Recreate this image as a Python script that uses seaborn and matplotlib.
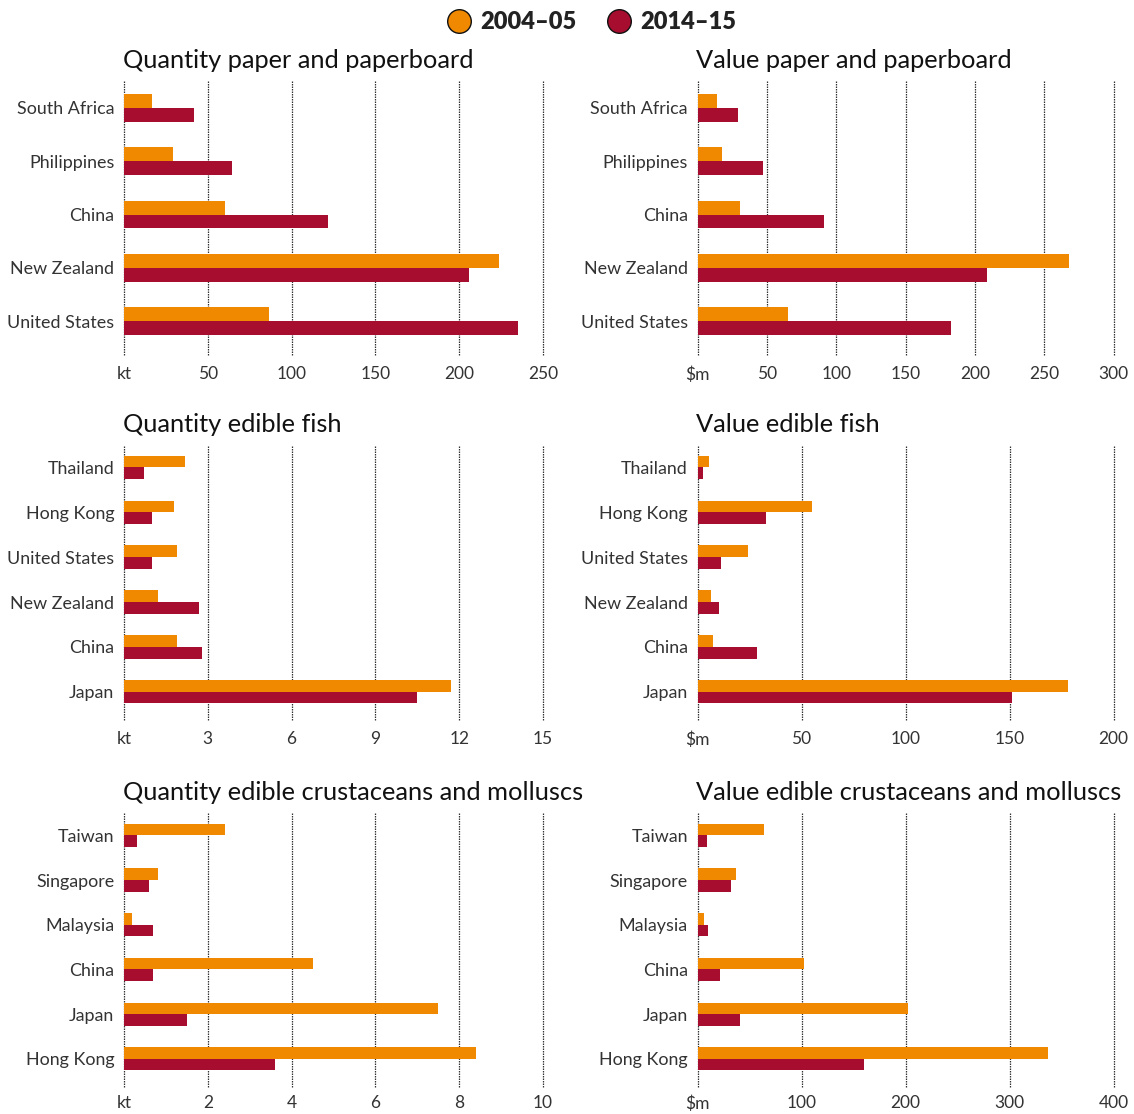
import matplotlib
matplotlib.use("Agg")
import matplotlib.pyplot as plt
from matplotlib.lines import Line2D
import seaborn as sns
import pandas as pd

# ---- data -------------------------------------------------------------
periods = ["2004–05", "2014–15"]

paper_countries = ["South Africa", "Philippines", "China", "New Zealand", "United States"]
paper_qty_0405 = [16.5, 29, 60, 224, 86.5]
paper_qty_1415 = [42, 64.5, 121.5, 206, 235]
paper_val_0405 = [14, 17.5, 30.5, 268, 65]
paper_val_1415 = [29.5, 47, 91, 209, 183]

fish_countries = ["Thailand", "Hong Kong", "United States", "New Zealand", "China", "Japan"]
fish_qty_0405 = [2.2, 1.8, 1.9, 1.2, 1.9, 11.7]
fish_qty_1415 = [0.7, 1.0, 1.0, 2.7, 2.8, 10.5]
fish_val_0405 = [5.3, 55, 24.5, 6.4, 7.4, 178]
fish_val_1415 = [2.6, 33, 11.2, 10.2, 28.4, 151]

crust_countries = ["Taiwan", "Singapore", "Malaysia", "China", "Japan", "Hong Kong"]
crust_qty_0405 = [2.4, 0.8, 0.2, 4.5, 7.5, 8.4]
crust_qty_1415 = [0.3, 0.6, 0.7, 0.7, 1.5, 3.6]
crust_val_0405 = [64, 37, 6, 102, 202, 337]
crust_val_1415 = [9, 32, 10.5, 22, 41, 160]

panel_titles = [
    "Quantity paper and paperboard", "Value paper and paperboard",
    "Quantity edible fish", "Value edible fish",
    "Quantity edible crustaceans and molluscs", "Value edible crustaceans and molluscs",
]
qty_unit, val_unit = "kt", "$m"
paper_qty_ticks = [0, 50, 100, 150, 200, 250]
paper_val_ticks = [0, 50, 100, 150, 200, 250, 300]
fish_qty_ticks = [0, 3, 6, 9, 12, 15]
fish_val_ticks = [0, 50, 100, 150, 200]
crust_qty_ticks = [0, 2, 4, 6, 8, 10]
crust_val_ticks = [0, 100, 200, 300, 400]

# ---- style ------------------------------------------------------------
ORANGE = "#F08800"
CRIMSON = "#A60D2F"
INK = "#222222"
sns.set_theme(style="white")
plt.rcParams["font.family"] = ["Lato", "DejaVu Sans"]
plt.rcParams["text.color"] = INK


def long_frame(countries, a, b):
    rows = []
    for c, v in zip(countries, a):
        rows.append({"country": c, "period": periods[0], "value": v})
    for c, v in zip(countries, b):
        rows.append({"country": c, "period": periods[1], "value": v})
    return pd.DataFrame(rows)


panels = [
    (paper_countries, paper_qty_0405, paper_qty_1415, paper_qty_ticks, qty_unit),
    (paper_countries, paper_val_0405, paper_val_1415, paper_val_ticks, val_unit),
    (fish_countries, fish_qty_0405, fish_qty_1415, fish_qty_ticks, qty_unit),
    (fish_countries, fish_val_0405, fish_val_1415, fish_val_ticks, val_unit),
    (crust_countries, crust_qty_0405, crust_qty_1415, crust_qty_ticks, qty_unit),
    (crust_countries, crust_val_0405, crust_val_1415, crust_val_ticks, val_unit),
]

W, H = 1134, 1114
fig = plt.figure(figsize=(W / 100, H / 100), dpi=100)

col_x = [(124, 419), (697.5, 416)]
row_y = [(81, 355), (445, 720), (813, 1087)]

for i, (countries, a, b, ticks, unit) in enumerate(panels):
    r, c = divmod(i, 2)
    x0, w = col_x[c]
    top, bottom = row_y[r]
    ax = fig.add_axes([x0 / W, 1 - bottom / H, w / W, (bottom - top) / H])
    df = long_frame(countries, a, b)
    sns.barplot(data=df, y="country", x="value", hue="period", order=countries,
                hue_order=periods, palette=[ORANGE, CRIMSON], width=0.52,
                orient="h", ax=ax, legend=False, saturation=1, errorbar=None,
                linewidth=0)
    n = len(countries)
    ax.set_ylim(n - 1 + 0.63, -0.5)
    ax.set_xlim(ticks[0], ticks[-1])
    ax.set_xticks(ticks)
    ax.set_xticklabels([unit] + [str(t) for t in ticks[1:]])
    ax.set_xlabel("")
    ax.set_ylabel("")
    for s in ax.spines.values():
        s.set_visible(False)
    ax.set_axisbelow(True)
    ax.xaxis.grid(True, linestyle=(0, (1.2, 0.8)), color="#333333", linewidth=0.9)
    ax.yaxis.grid(False)
    for gl in ax.get_xgridlines():
        gl.set_clip_on(False)
    ax.tick_params(axis="x", length=0, pad=8 if r < 2 else 6, labelsize=12.5,
                   labelcolor="#333333")
    ax.tick_params(axis="y", length=0, pad=7, labelsize=12.9, labelcolor="#333333")
    ax.set_title(panel_titles[i], loc="left", fontsize=18.3, pad=9,
                 color="#111111", x=-0.003)

handles = [
    Line2D([], [], linestyle="none", marker="o", markersize=17,
           markerfacecolor=col, markeredgecolor="#111111", markeredgewidth=1.0)
    for col in (ORANGE, CRIMSON)
]
fig.legend(handles, periods, loc="center", bbox_to_anchor=(592 / W, 1 - 22 / H),
           ncol=2, frameon=False, handlelength=1.0, handletextpad=0.4,
           columnspacing=1.3,
           prop={"family": ["Lato", "DejaVu Sans"], "weight": "heavy", "size": 17})

fig.savefig("out.png", dpi=100)
